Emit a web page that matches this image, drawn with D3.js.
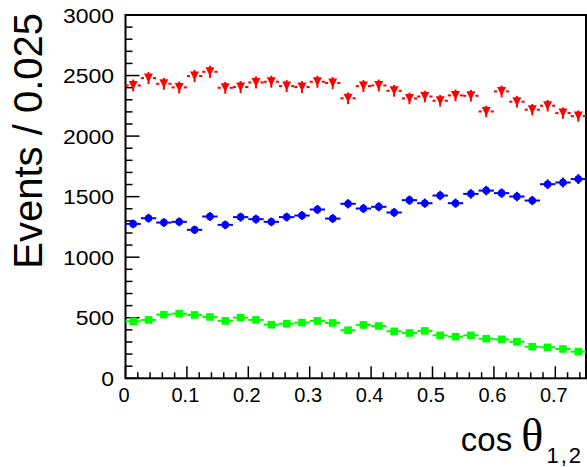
<!DOCTYPE html>
<html>
<head>
<meta charset="utf-8">
<script src="https://cdn.jsdelivr.net/npm/d3@7"></script>
<style>
  html, body { margin: 0; padding: 0; background: #fff; }
  svg { display: block; }
</style>
</head>
<body>
<svg id="chart" width="587" height="467"></svg>
<script>
// ---- data ----
const binWidth = 0.025;
const binCenters = d3.range(30).map(i => 0.0125 + i * binWidth);
const redValues = [2418, 2479, 2432, 2402, 2496, 2531, 2399, 2405, 2443, 2449,
                   2413, 2405, 2449, 2438, 2312, 2413, 2418, 2374, 2311, 2327,
                   2292, 2336, 2333, 2203, 2369, 2284, 2218, 2251, 2190, 2165];
const blueValues = [1275, 1322, 1286, 1292, 1226, 1336, 1267, 1331, 1314, 1292,
                    1331, 1344, 1394, 1319, 1441, 1402, 1416, 1369, 1471, 1446,
                    1509, 1446, 1523, 1550, 1529, 1501, 1468, 1603, 1617, 1645];
const greenValues = [471, 482, 526, 534, 523, 507, 474, 501, 482, 443,
                     451, 460, 474, 457, 397, 441, 432, 388, 374, 391,
                     355, 344, 355, 327, 322, 302, 261, 256, 242, 220];
const xTickLabels = ["0", "0.1", "0.2", "0.3", "0.4", "0.5", "0.6", "0.7"];
const yTickLabels = ["0", "500", "1000", "1500", "2000", "2500", "3000"];

// ---- layout ----
const svg = d3.select("#chart");
const L = 125.5, R = 586, T = 15, B = 378.3;
const x = d3.scaleLinear().domain([0, 0.75]).range([L, R]);
const y = d3.scaleLinear().domain([0, 3000]).range([B, T]);
const font = "'Liberation Sans', Arial, Helvetica, sans-serif";

// frame
svg.append("rect").attr("x", L).attr("y", T).attr("width", R - L).attr("height", B - T)
  .attr("fill", "none").attr("stroke", "#000").attr("stroke-width", 2);

// y axis ticks (inside)
const yMinor = d3.range(0, 3001, 100);
svg.append("g").selectAll("line").data(yMinor).join("line")
  .attr("x1", L).attr("x2", d => L + (d % 500 === 0 ? 14 : 7))
  .attr("y1", d => y(d)).attr("y2", d => y(d))
  .attr("stroke", "#000").attr("stroke-width", 1.5);
svg.append("g").selectAll("text").data(yTickLabels).join("text")
  .attr("transform", d => `translate(114,${y(+d) + 7.5}) scale(1.12,1)`)
  .attr("text-anchor", "end").attr("font-family", font).attr("font-size", 20.5)
  .text(d => d);

// x axis ticks (inside)
const xMinor = d3.range(0, 38).map(i => i * 0.02).filter(v => v <= 0.7501);
svg.append("g").selectAll("line").data(xMinor).join("line")
  .attr("x1", d => x(d)).attr("x2", d => x(d))
  .attr("y1", B).attr("y2", (d, i) => B - (i % 5 === 0 ? 12 : 6))
  .attr("stroke", "#000").attr("stroke-width", 1.5);
svg.append("g").selectAll("text").data(xTickLabels).join("text")
  .attr("x", d => x(+d) - 1.5).attr("y", 402)
  .attr("text-anchor", "middle").attr("font-family", font).attr("font-size", 20)
  .text(d => d);

// axis titles
svg.append("text")
  .attr("transform", "translate(42,13) rotate(-90)")
  .attr("text-anchor", "end").attr("font-family", font).attr("font-size", 40)
  .text("Events / 0.025");

const xt = svg.append("text").attr("x", 583).attr("y", 451)
  .attr("text-anchor", "end").attr("font-family", font).attr("font-size", 33);
xt.append("tspan").text("cos ");
xt.append("tspan").attr("font-family", "'Liberation Serif', 'DejaVu Serif', serif").attr("font-size", 46).text("θ");
xt.append("tspan").attr("font-size", 22).attr("dx", 3).attr("dy", 12).attr("letter-spacing", 2).text("1,2");

// ---- series ----
const series = [
  { name: "red", values: redValues, color: "#ff0000", marker: "tri", ms: 4.5 },
  { name: "blue", values: blueValues, color: "#0000ff", marker: "circle", ms: 3.8 },
  { name: "green", values: greenValues, color: "#00ff00", marker: "square", ms: 3.8 }
];

series.forEach(s => {
  const g = svg.append("g");
  const pts = s.values.map((v, i) => ({ cx: binCenters[i], v, err: Math.sqrt(v) }));
  const hw = x(binWidth) - x(0);
  pts.forEach(p => {
    const px = x(p.cx), py = y(p.v);
    const hGap = s.marker === "tri" ? 4.5 : 0;
    // horizontal error bar
    g.append("line").attr("x1", px - hw / 2).attr("x2", px - hGap)
      .attr("y1", py).attr("y2", py).attr("stroke", s.color).attr("stroke-width", 2);
    g.append("line").attr("x1", px + hGap).attr("x2", px + hw / 2)
      .attr("y1", py).attr("y2", py).attr("stroke", s.color).attr("stroke-width", 2);
    // vertical error bar
    g.append("line").attr("x1", px).attr("x2", px)
      .attr("y1", y(p.v - p.err)).attr("y2", y(p.v + p.err))
      .attr("stroke", s.color).attr("stroke-width", 2);
  });
  if (s.marker === "circle") {
    g.selectAll("circle").data(pts).join("circle")
      .attr("cx", d => x(d.cx)).attr("cy", d => y(d.v)).attr("r", s.ms).attr("fill", s.color);
  } else if (s.marker === "square") {
    g.selectAll("rect").data(pts).join("rect")
      .attr("x", d => x(d.cx) - s.ms).attr("y", d => y(d.v) - s.ms)
      .attr("width", 2 * s.ms).attr("height", 2 * s.ms).attr("fill", s.color);
  } else {
    g.selectAll("path").data(pts).join("path")
      .attr("d", d => {
        const px = x(d.cx), py = y(d.v), m = s.ms;
        return `M${px - m},${py - m}L${px + m},${py - m}L${px},${py + m}Z`;
      })
      .attr("fill", s.color);
  }
});
</script>
</body>
</html>
